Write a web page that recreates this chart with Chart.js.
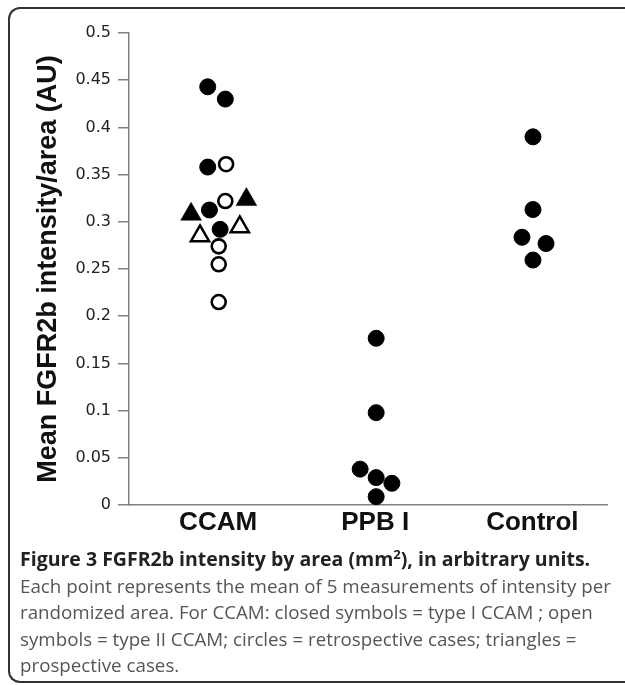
<!DOCTYPE html>
<html>
<head>
<meta charset="utf-8">
<script src="https://cdn.jsdelivr.net/npm/chart.js@4.4.0/dist/chart.umd.min.js"></script>
<style>
  html, body { margin: 0; padding: 0; width: 625px; height: 685px; overflow: hidden; background: #fff; }
  #frame { position: absolute; left: 8px; top: 7px; width: 700px; height: 672px; border: 2px solid #333; border-right: none; border-radius: 12px 0 0 12px; }
  #wrap { position: absolute; left: 0; top: 0; width: 625px; height: 545px; }
  #caption { position: absolute; left: 20px; top: 546px; width: 603px; font-family: "Open Sans", sans-serif; font-size: 18.75px; line-height: 26.5px; color: #555; }
  #caption b { color: #222; font-size: 19.5px; }
  #caption sup { font-size: 13px; line-height: 0; }
</style>
</head>
<body>
<div id="frame"></div>
<div id="wrap"><canvas id="chart" width="625" height="545"></canvas></div>
<div id="caption">
  <b>Figure 3 FGFR2b intensity by area (mm<sup>2</sup>), in arbitrary units.</b><br>
  Each point represents the mean of 5 measurements of intensity per randomized area. For CCAM: closed symbols = type I CCAM ; open symbols = type II CCAM; circles = retrospective cases; triangles = prospective cases.
</div>
<script>
const groupLabels = ["CCAM", "PPB I", "Control"];
const groupPos = [1, 2, 3];

const yTicks = [0, 0.05, 0.1, 0.15, 0.2, 0.25, 0.3, 0.35, 0.4, 0.45, 0.5];
const yTickLabels = ["0", "0.05", "0.1", "0.15", "0.2", "0.25", "0.3", "0.35", "0.4", "0.45", "0.5"];

// CCAM type I, retrospective (closed circles)
const ccamClosedCircleX = [0.934, 1.046, 0.934, 0.945, 1.013];
const ccamClosedCircleY = [0.443, 0.430, 0.358, 0.3125, 0.292];

// CCAM type II, retrospective (open circles)
const ccamOpenCircleX = [1.051, 1.046, 1.004, 1.004, 1.004];
const ccamOpenCircleY = [0.361, 0.322, 0.274, 0.255, 0.215];

// CCAM type I, prospective (closed triangles)
const ccamClosedTriX = [0.828, 1.180];
const ccamClosedTriY = [0.308, 0.3235];

// CCAM type II, prospective (open triangles)
const ccamOpenTriX = [0.885, 1.138];
const ccamOpenTriY = [0.285, 0.2946];

const ppbX = [2.006, 2.006, 1.904, 2.006, 2.106, 2.006];
const ppbY = [0.1766, 0.0978, 0.038, 0.029, 0.023, 0.0088];

const controlX = [3.004, 3.004, 2.934, 3.087, 3.004];
const controlY = [0.390, 0.313, 0.2836, 0.277, 0.2595];

function pts(xs, ys) {
  return xs.map((x, i) => ({ x: x, y: ys[i] }));
}

function closedCircles(label, xs, ys) {
  return {
    label, data: pts(xs, ys), pointStyle: "circle", pointRadius: 8,
    backgroundColor: "#000", borderColor: "#000", borderWidth: 1
  };
}

const ctx = document.getElementById("chart").getContext("2d");
const chart = new Chart(ctx, {
  type: "scatter",
  data: {
    datasets: [
      closedCircles("CCAM type I retrospective", ccamClosedCircleX, ccamClosedCircleY),
      {
        label: "CCAM type II retrospective", data: pts(ccamOpenCircleX, ccamOpenCircleY),
        pointStyle: "circle", pointRadius: 7, backgroundColor: "#fff", borderColor: "#000", borderWidth: 2.6
      },
      {
        label: "CCAM type I prospective", data: pts(ccamClosedTriX, ccamClosedTriY),
        pointStyle: "triangle", pointRadius: 12, backgroundColor: "#000", borderColor: "#000", borderWidth: 0.5
      },
      {
        label: "CCAM type II prospective", data: pts(ccamOpenTriX, ccamOpenTriY),
        pointStyle: "triangle", pointRadius: 10.5, backgroundColor: "#fff", borderColor: "#000", borderWidth: 2.5
      },
      closedCircles("PPB I", ppbX, ppbY),
      closedCircles("Control", controlX, controlY)
    ]
  },
  options: {
    responsive: false,
    animation: false,
    devicePixelRatio: 1,
    layout: { padding: { top: 33, right: 18, left: 0, bottom: 0 } },
    plugins: { legend: { display: false }, tooltip: { enabled: false } },
    scales: {
      x: {
        type: "linear",
        min: 0.433,
        max: 3.475,
        afterBuildTicks: s => { s.ticks = groupPos.map(v => ({ value: v })); },
        afterFit: s => { s.height = 40; },
        ticks: {
          callback: (v, i) => groupLabels[i],
          font: { family: "Liberation Sans", size: 26, weight: "bold" },
          color: "#111", padding: 2, maxRotation: 0, autoSkip: false
        },
        grid: { display: false, drawTicks: false },
        border: { color: "#808080", width: 1.5 }
      },
      y: {
        min: 0,
        max: 0.5,
        afterBuildTicks: s => { s.ticks = yTicks.map(v => ({ value: v })); },
        afterFit: s => { s.width = 129; },
        ticks: {
          callback: (v, i) => yTickLabels[i],
          font: { family: "DejaVu Sans", size: 16 },
          color: "#222", padding: 7, autoSkip: false
        },
        grid: { drawOnChartArea: false, tickLength: 11, tickColor: "#808080", lineWidth: 1.5 },
        border: { color: "#808080", width: 1.5 },
        title: {
          display: true,
          text: "Mean FGFR2b intensity/area (AU)",
          font: { family: "Liberation Sans", size: 27, weight: "bold" },
          color: "#111",
          padding: { top: 32, bottom: 0 }
        }
      }
    }
  }
});
</script>
</body>
</html>
